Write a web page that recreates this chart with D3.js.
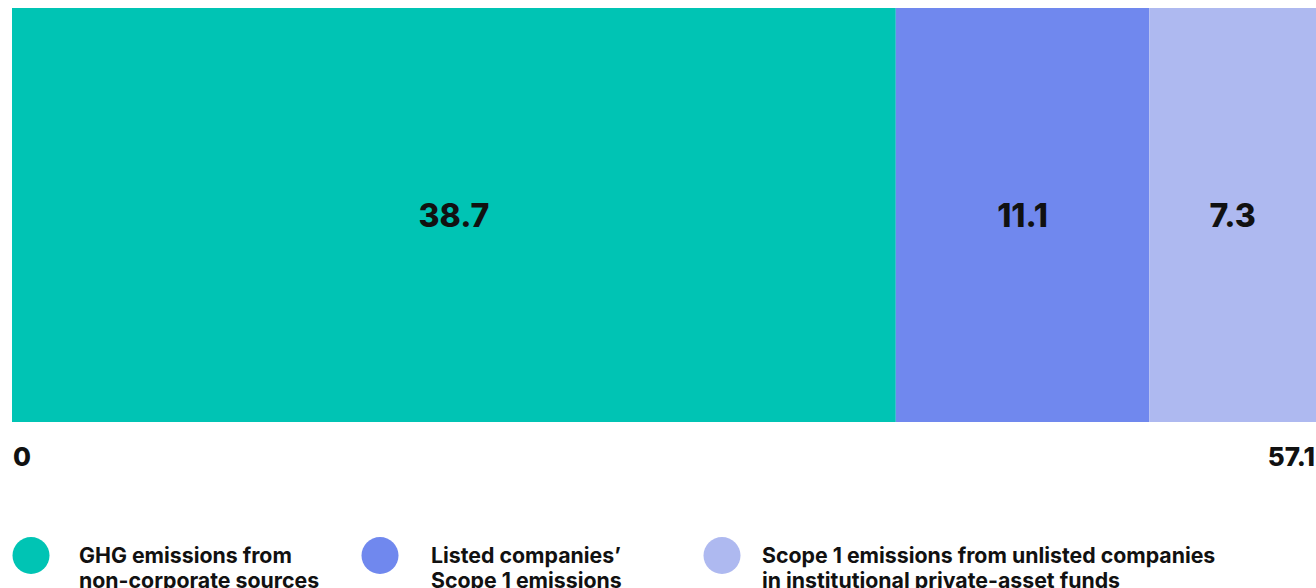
<!DOCTYPE html>
<html><head><meta charset="utf-8">
<script src="https://cdn.jsdelivr.net/npm/d3@7"></script>
<style>body{margin:0;background:#fff;}svg{display:block;font-family:Inter,"Noto Sans",sans-serif;}</style>
</head><body>
<svg id="c" width="1316" height="588"></svg>
<script>
const categories = ["GHG emissions from|non-corporate sources", "Listed companies’|Scope 1 emissions", "Scope 1 emissions from unlisted companies|in institutional private-asset funds"];
const values = [38.7, 11.1, 7.3];
const colors = ["#00C4B4", "#7088EE", "#AEB9F0"];
const axisLabels = ["0", "57.1"];
const total = 57.1;

const svg = d3.select("#c");
const x = d3.scaleLinear().domain([0, total]).range([12, 1316]);
const y0 = 8, y1 = 422;

let acc = 0;
const segs = values.map((v, i) => { const s = {v, i, start: acc, end: acc + v}; acc += v; return s; });

svg.selectAll("rect.seg").data(segs).enter().append("rect")
  .attr("x", d => x(d.start)).attr("y", y0)
  .attr("width", d => x(d.end) - x(d.start)).attr("height", y1 - y0)
  .attr("fill", d => colors[d.i]);

svg.selectAll("text.val").data(segs).enter().append("text")
  .attr("x", d => (x(d.start) + x(d.end)) / 2).attr("y", 227)
  .attr("text-anchor", "middle")
  .attr("font-size", 32).attr("font-weight", 800).attr("fill", "#111")
  .text(d => d.v.toFixed(1));

svg.append("text").attr("x", x(0) + 1).attr("y", 466).attr("font-size", 26).attr("font-weight", 800).attr("fill", "#111").text(axisLabels[0]);
svg.append("text").attr("x", x(total) - 1).attr("y", 466).attr("text-anchor", "end").attr("font-size", 26).attr("font-weight", 800).attr("fill", "#111").text(axisLabels[1]);

const legX = [31, 380, 722];
const legTX = [79, 431, 762];
const lg = svg.selectAll("g.leg").data(categories).enter().append("g");
lg.append("circle").attr("cx", (d, i) => legX[i]).attr("cy", 555.5).attr("r", 18.5).attr("fill", (d, i) => colors[i]);
lg.each(function(d, i) {
  const t = d3.select(this).append("text").attr("x", legTX[i]).attr("font-size", 21.3).attr("font-weight", 700).attr("fill", "#111");
  d.split("|").forEach((line, k) => t.append("tspan").attr("x", legTX[i]).attr("y", 562.5 + k * 25).text(line));
});
</script>
</body></html>
